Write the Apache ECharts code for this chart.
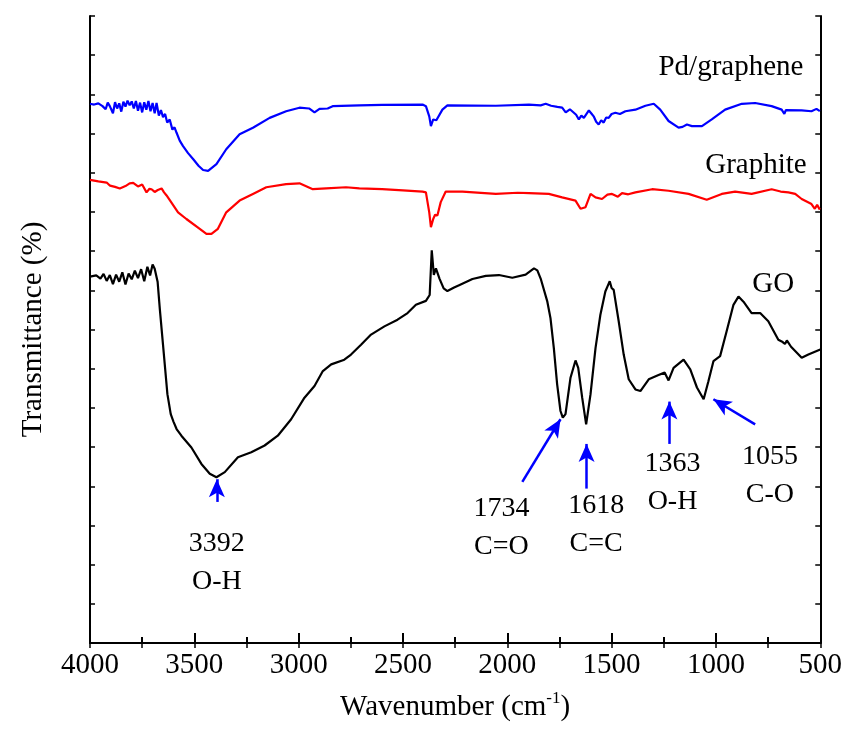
<!DOCTYPE html>
<html>
<head>
<meta charset="utf-8">
<script src="https://cdn.jsdelivr.net/npm/echarts@6/dist/echarts.min.js"></script>
<style>
  html, body { margin: 0; padding: 0; background: #fff; }
  #chart { width: 845px; height: 729px; }
</style>
</head>
<body>
<div id="chart"></div>
<script>
// wavenumber (cm-1) and transmittance (arbitrary offset units)
var goWave = [4000, 3970, 3950, 3935, 3920, 3905, 3890, 3875, 3860, 3845, 3830, 3815, 3800, 3785, 3770, 3755, 3740, 3725, 3712, 3700,
  3690, 3676, 3665, 3650, 3629, 3613, 3600, 3585, 3562, 3514, 3466, 3426, 3394, 3354, 3291, 3227, 3163, 3100, 3036, 2972,
  2924, 2884, 2844, 2781, 2749, 2701, 2653, 2589, 2526, 2478, 2438, 2390, 2372, 2362, 2352, 2342, 2325, 2305, 2287, 2255,
  2231, 2167, 2103, 2040, 1976, 1912, 1872, 1856, 1840, 1808, 1793, 1777, 1761, 1745, 1734, 1721, 1697, 1673, 1660, 1641,
  1622, 1601, 1577, 1554, 1530, 1518, 1509, 1500, 1490, 1466, 1442, 1418, 1386, 1362, 1322, 1275, 1246, 1227, 1203, 1155,
  1123, 1091, 1059, 1036, 1012, 980, 949, 916, 892, 868, 829, 788, 749, 701, 680, 669, 660, 640, 589, 557, 500];
var goT = [93.5, 93.8, 93.0, 94.2, 92.4, 93.9, 91.6, 94.0, 92.2, 94.6, 91.5, 94.3, 92.8, 95.0, 93.1, 95.4, 92.3, 96.0, 93.8, 96.6,
  95.5, 92.2, 85.0, 76.1, 63.5, 58.4, 56.5, 54.6, 52.9, 49.9, 45.7, 43.2, 42.3, 43.6, 47.4, 48.7, 50.4, 52.9, 57.1, 62.6,
  65.6, 69.4, 71.1, 72.3, 73.6, 76.1, 78.7, 80.8, 82.5, 84.2, 86.3, 87.3, 88.8, 100.2, 93.9, 95.6, 93.0, 90.5, 89.8, 90.7,
  91.3, 92.9, 93.7, 93.9, 93.2, 94.0, 95.6, 95.1, 93.0, 87.1, 82.9, 75.3, 66.0, 59.2, 57.5, 58.4, 67.7, 72.1, 70.2, 62.6,
  55.8, 63.5, 75.3, 83.7, 89.7, 91.2, 92.3, 90.6, 90.1, 82.1, 73.6, 67.3, 64.7, 64.3, 67.3, 68.4, 69.0, 67.0, 70.2, 72.3,
  69.8, 65.2, 62.2, 66.8, 71.9, 73.2, 79.5, 86.3, 88.4, 87.1, 84.2, 84.2, 82.1, 77.4, 76.8, 76.3, 77.2, 75.6, 72.8, 73.6, 74.9];

var graphiteWave = [4000, 3960, 3920, 3904, 3880, 3857, 3830, 3810, 3793, 3770, 3750, 3729, 3715, 3705, 3690, 3675, 3657, 3645, 3633, 3578,
  3538, 3474, 3442, 3418, 3387, 3347, 3283, 3219, 3155, 3060, 2996, 2932, 2868, 2773, 2709, 2600, 2500, 2406, 2390, 2374,
  2366, 2355, 2346, 2335, 2319, 2295, 2215, 2055, 1950, 1896, 1801, 1737, 1673, 1649, 1625, 1601, 1577, 1546, 1520, 1498,
  1470, 1450, 1420, 1386, 1306, 1227, 1131, 1044, 972, 908, 829, 733, 690, 653, 620, 589, 542, 526, 515, 502];
var graphiteT = [118.2, 117.8, 117.5, 116.7, 116.4, 116.0, 116.6, 117.3, 117.4, 116.5, 117.0, 115.0, 115.9, 115.8, 115.1, 115.6, 116.0, 115.0, 114.2, 109.9,
  108.2, 105.7, 104.4, 104.4, 105.7, 109.9, 112.9, 114.6, 116.3, 117.1, 117.3, 115.8, 116.0, 116.3, 116.0, 115.8, 115.5, 115.2, 115.0, 109.9,
  106.1, 108.2, 109.3, 109.1, 112.5, 115.2, 115.2, 114.6, 114.9, 114.8, 114.6, 113.7, 112.9, 110.8, 111.2, 114.6, 113.7, 113.3, 114.4, 114.6,
  113.9, 114.8, 114.5, 115.0, 115.8, 115.4, 114.6, 113.1, 114.6, 115.2, 114.6, 115.8, 115.2, 115.0, 114.6, 113.3, 112.0, 110.8, 111.8, 110.6];

var pdWave = [4000, 3980, 3960, 3940, 3925, 3915, 3905, 3890, 3880, 3870, 3860, 3850, 3840, 3830, 3820, 3810, 3800, 3790, 3780, 3770,
  3760, 3750, 3740, 3730, 3720, 3710, 3700, 3690, 3681, 3670, 3660, 3650, 3640, 3630, 3618, 3605, 3595, 3585, 3570, 3554,
  3530, 3506, 3480, 3458, 3434, 3394, 3347, 3283, 3219, 3139, 3060, 2996, 2950, 2924, 2900, 2861, 2837, 2709, 2600, 2406,
  2390, 2374, 2366, 2355, 2340, 2311, 2287, 2055, 1896, 1840, 1816, 1790, 1760, 1737, 1720, 1700, 1689, 1670, 1657, 1645,
  1633, 1609, 1595, 1586, 1574, 1562, 1550, 1538, 1526, 1514, 1500, 1482, 1460, 1434, 1386, 1338, 1298, 1267, 1227, 1179,
  1160, 1139, 1115, 1067, 1020, 956, 876, 812, 733, 685, 672, 665, 589, 542, 518, 502];
var pdT = [137.6, 137.4, 137.7, 137.0, 136.2, 137.9, 137.0, 135.2, 138.0, 136.4, 137.7, 135.6, 138.1, 136.9, 138.4, 137.2, 138.2, 136.4, 138.3, 135.8,
  137.9, 135.4, 138.0, 136.1, 138.3, 135.7, 137.8, 135.2, 137.8, 134.6, 136.0, 134.2, 135.0, 132.8, 133.6, 131.0, 131.6, 130.2, 128.2, 126.8,
  125.0, 123.5, 121.8, 120.7, 120.5, 122.2, 126.0, 129.8, 131.5, 134.0, 135.7, 136.6, 136.4, 135.4, 136.3, 136.4, 137.0, 137.2, 137.3, 137.4,
  137.0, 134.4, 131.9, 133.6, 133.4, 136.1, 137.2, 137.1, 137.4, 137.2, 137.6, 137.1, 136.8, 136.6, 135.4, 136.2, 135.7, 134.8, 133.6, 134.6,
  134.0, 135.9, 135.0, 134.4, 133.0, 132.3, 133.4, 132.8, 134.1, 134.0, 135.0, 135.3, 135.0, 135.7, 136.1, 137.1, 137.6, 136.1, 133.2, 131.5,
  131.7, 132.3, 131.9, 131.9, 133.6, 136.1, 137.6, 137.8, 137.0, 136.1, 135.0, 136.0, 135.9, 135.7, 136.3, 135.7];

// labels: text, wavenumber, transmittance
var curveLabels = ['Pd/graphene', 'Graphite', 'GO'];
var curveLabelWave = [928, 808, 725];
var curveLabelT = [146.8, 121.9, 91.5];

var peakLabels = ['3392\nO-H', '1734\nC=O', '1618\nC=C', '1363\nO-H', '1055\nC-O'];
var peakLabelWave = [3392, 2028, 1574, 1208, 741];
var peakLabelT = [20.5, 29.4, 30.3, 40.8, 42.8];

// arrows: tail -> tip
var arrowFromWave = [3392, 1928, 1620, 1223, 812];
var arrowFromT = [36.0, 41.1, 39.4, 50.8, 55.8];
var arrowToWave = [3392, 1745, 1620, 1223, 1012];
var arrowToT = [41.8, 57.1, 50.8, 61.6, 62.2];

function zip(a, b) {
  return a.map(function (v, i) { return [v, b[i]]; });
}

var font = 'Liberation Serif, Times New Roman, serif';

var chart = echarts.init(document.getElementById('chart'));

var textData = curveLabels.map(function (t, i) {
  return { name: t, value: [curveLabelWave[i], curveLabelT[i]], label: { fontSize: 29, color: '#000' } };
}).concat(peakLabels.map(function (t, i) {
  return { name: t, value: [peakLabelWave[i], peakLabelT[i]], label: { fontSize: 28, color: '#000' } };
}));

var arrowData = arrowFromWave.map(function (w, i) {
  return [{ coord: [w, arrowFromT[i]] }, { coord: [arrowToWave[i], arrowToT[i]] }];
});

var option = {
  animation: false,
  backgroundColor: '#fff',
  grid: { left: 90, right: 23, top: 16, bottom: 82 },
  xAxis: [{
    type: 'value',
    inverse: true,
    min: 500,
    max: 4000,
    interval: 500,
    name: 'Wavenumber (cm{sup|-1})',
    nameLocation: 'middle',
    nameGap: 47,
    nameTextStyle: {
      fontFamily: font, fontSize: 29, color: '#000', lineHeight: 34,
      rich: { sup: { fontFamily: font, fontSize: 17, color: '#000', verticalAlign: 'top', lineHeight: 34 } }
    },
    axisLine: { lineStyle: { color: '#000', width: 2 } },
    axisTick: { inside: true, length: 10, lineStyle: { color: '#000', width: 2 } },
    minorTick: { show: true, splitNumber: 2, length: 6, lineStyle: { color: '#000', width: 2 } },
    axisLabel: {
      fontFamily: font, fontSize: 29, color: '#000', margin: 8,
      formatter: function (v) { return String(v); }
    },
    splitLine: { show: false }
  }, {
    type: 'value',
    position: 'top',
    inverse: true,
    min: 500,
    max: 4000,
    interval: 250,
    axisLine: { lineStyle: { color: '#000', width: 2 } },
    axisTick: { inside: true, length: 5, lineStyle: { color: '#000', width: 1.5 } },
    axisLabel: { show: false },
    splitLine: { show: false }
  }],
  yAxis: [{
    type: 'value',
    min: 0,
    max: 160,
    interval: 10,
    name: 'Transmittance (%)',
    nameLocation: 'middle',
    nameGap: 42,
    nameTextStyle: { fontFamily: font, fontSize: 29, color: '#000' },
    axisLine: { show: true, lineStyle: { color: '#000', width: 2 } },
    axisTick: { show: true, inside: true, length: 5, lineStyle: { color: '#000', width: 1.5 } },
    axisLabel: { show: false },
    splitLine: { show: false }
  }, {
    type: 'value',
    position: 'right',
    min: 0,
    max: 160,
    interval: 10,
    axisLine: { show: true, lineStyle: { color: '#000', width: 2 } },
    axisTick: { show: true, inside: true, length: 5, lineStyle: { color: '#000', width: 1.5 } },
    axisLabel: { show: false },
    splitLine: { show: false }
  }],
  series: [
    {
      name: 'GO', type: 'line', data: zip(goWave, goT), showSymbol: false, smooth: false,
      lineStyle: { color: '#000', width: 2.2 }, silent: true
    },
    {
      name: 'Graphite', type: 'line', data: zip(graphiteWave, graphiteT), showSymbol: false,
      lineStyle: { color: '#ff0000', width: 2.2 }, silent: true
    },
    {
      name: 'Pd/graphene', type: 'line', data: zip(pdWave, pdT), showSymbol: false,
      lineStyle: { color: '#0000ff', width: 2.2 }, silent: true
    },
    {
      name: 'arrows', type: 'line', data: [], silent: true,
      markLine: {
        silent: true,
        symbol: ['none', 'arrow'],
        symbolSize: [12, 18],
        label: { show: false },
        lineStyle: { color: '#0000ff', width: 2.5, type: 'solid', opacity: 1 },
        emphasis: { disabled: true },
        data: arrowData
      }
    },
    {
      name: 'labels', type: 'scatter', symbolSize: 0, silent: true,
      itemStyle: { opacity: 1 },
      label: {
        show: true, position: 'inside', formatter: '{b}',
        fontFamily: font, color: '#000', opacity: 1, lineHeight: 38, align: 'center', verticalAlign: 'middle'
      },
      emphasis: { disabled: true },
      data: textData
    }
  ]
};

chart.setOption(option);
</script>
</body>
</html>
